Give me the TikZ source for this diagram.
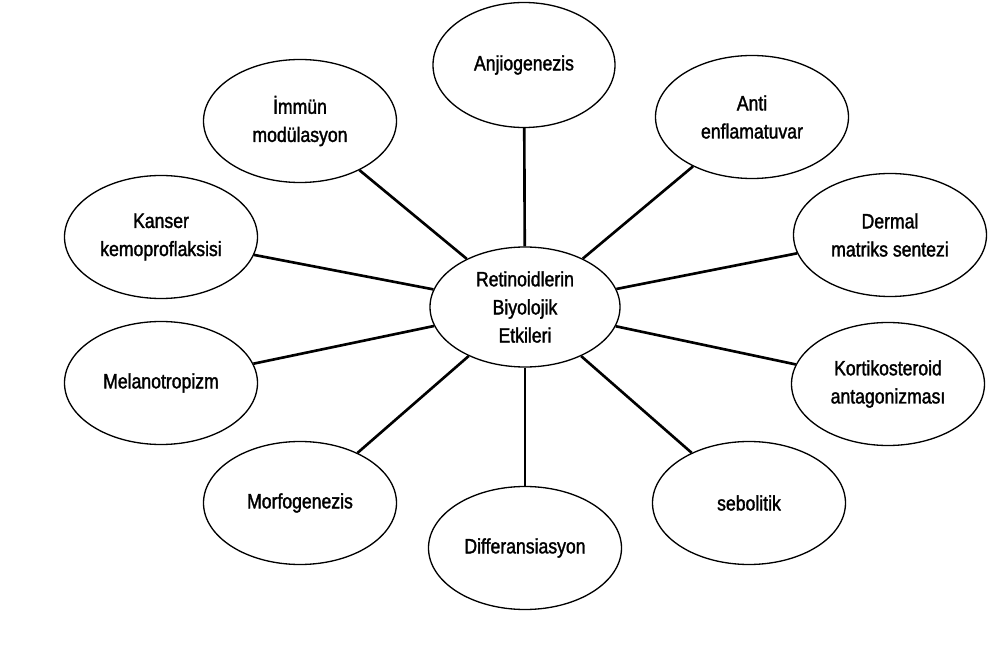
\documentclass[tikz,border=0pt]{standalone}
\usepackage{fontspec}
\setmainfont{Liberation Sans}[FakeStretch=0.85,FakeBold=1.6]
\usetikzlibrary{shapes.geometric}

\tikzset{
  etki/.style={draw,ellipse,line width=0.75pt,fill=white,
               minimum width=3.86cm,minimum height=2.46cm,inner sep=0pt,
               align=center,font=\fontsize{11.8}{16}\selectfont},
  merkez/.style={etki,minimum width=3.8cm,minimum height=2.4cm},
  bag/.style={line width=1.5pt}
}

\begin{document}
\begin{tikzpicture}[x=0.2mm,y=-0.2mm]
\useasboundingbox (0,0) rectangle (1008,652);

% merkez
\node[merkez] (ret) at (525,307) {Retinoidlerin\\Biyolojik\\Etkileri};

% etkiler
\node[etki,minimum width=3.64cm,minimum height=2.5cm] (anj) at (524,65) {Anjiogenezis};
\node[etki] (imm) at (300,121) {İmmün\\modülasyon};
\node[etki] (ant) at (752,117) {Anti\\enflamatuvar};
\node[etki] (kan) at (161,237) {Kanser\\kemoproflaksisi};
\node[etki] (der) at (890,235) {Dermal\\matriks sentezi};
\node[etki] (mel) at (161,383) {Melanotropizm};
\node[etki] (kor) at (888,384) {Kortikosteroid\\antagonizması};
\node[etki] (mor) at (300,503) {Morfogenezis};
\node[etki] (dif) at (525,548) {Differansiasyon};
\node[etki] (seb) at (749,503) {sebolitik};

% baglar
\foreach \n in {anj,imm,ant,kan,der,mel,kor,mor,dif,seb}
  \draw[bag] (ret) -- (\n);
\end{tikzpicture}
\end{document}
